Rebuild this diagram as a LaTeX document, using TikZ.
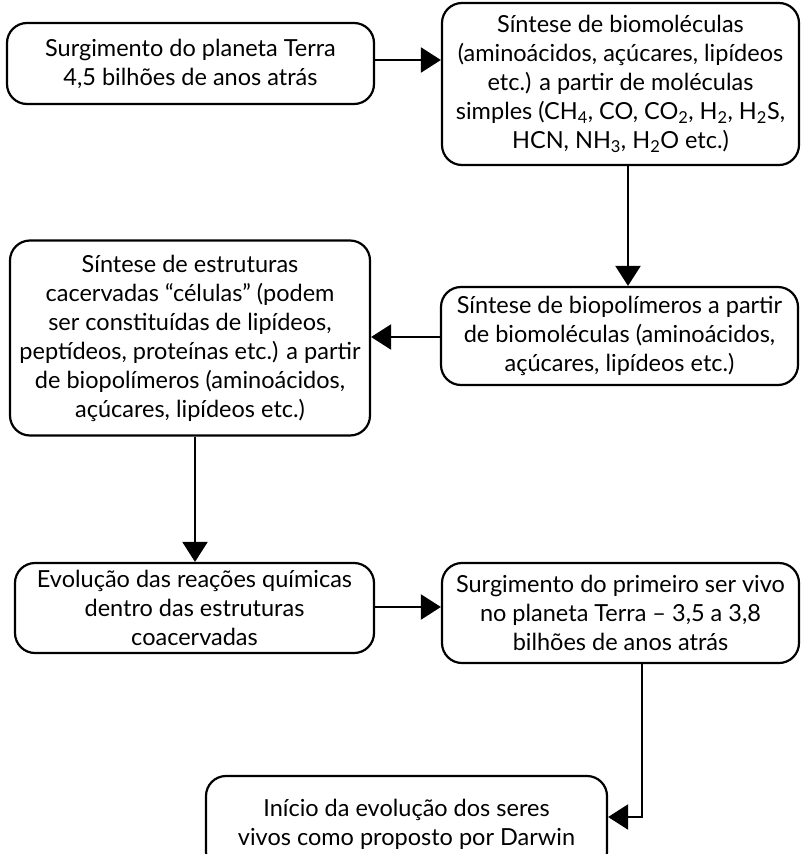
\documentclass[tikz,border=0pt]{standalone}
\usepackage{fontspec}
\setmainfont{Lato}
\usetikzlibrary{arrows.meta}
\begin{document}
\begin{tikzpicture}[x=1pt,y=-1pt,
  box/.style={draw=black,line width=2.2pt,rounded corners=20pt,align=center,
    inner sep=0pt,font=\fontsize{23.5}{29}\selectfont},
  conn/.style={line width=2.2pt,-{Triangle[length=20pt,width=25pt]}}]
\useasboundingbox (0,0) rectangle (801,854);
\clip (0,0) rectangle (801,854);
\fill[white] (0,0) rectangle (801,854);
\node[box,minimum width=367pt,minimum height=81pt] (b1) at (190.5,63.5)
  {Surgimento do planeta Terra\\4,5 bilhões de anos atrás};
\node[box,minimum width=357pt,minimum height=162pt] (b2) at (620.5,84)
  {Síntese de biomoléculas\\(aminoácidos, açúcares, lipídeos\\etc.) a partir de moléculas\\simples (CH\textsubscript{4}, CO, CO\textsubscript{2}, H\textsubscript{2}, H\textsubscript{2}S,\\HCN, NH\textsubscript{3}, H\textsubscript{2}O etc.)};
\node[box,minimum width=357pt,minimum height=98pt] (b3) at (619.5,336)
  {Síntese de biopolímeros a partir\\de biomoléculas (aminoácidos,\\açúcares, lipídeos etc.)};
\node[box,minimum width=360pt,minimum height=195pt] (b4) at (190,338)
  {Síntese de estruturas\\cacervadas “células” (podem\\ser constituídas de lipídeos,\\peptídeos, proteínas etc.) a partir\\de biopolímeros (aminoácidos,\\açúcares, lipídeos etc.)};
\node[box,minimum width=359pt,minimum height=90pt] (b5) at (194.5,608)
  {Evolução das reações químicas\\dentro das estruturas\\coacervadas};
\node[box,minimum width=357pt,minimum height=100pt] (b6) at (620.5,613)
  {Surgimento do primeiro ser vivo\\no planeta Terra – 3,5 a 3,8\\bilhões de anos atrás};
\node[box,minimum width=401pt,minimum height=96pt] (b7) at (406.5,824)
  {Início da evolução dos seres\\vivos como proposto por Darwin};
\draw[conn] (b1.east |- 0,60) -- (b2.west |- 0,60);
\draw[conn] (b2.south -| 628,0) -- (b3.north -| 628,0);
\draw[conn] (b3.west |- 0,337) -- (b4.east |- 0,337);
\draw[conn] (b4.south -| 195,0) -- (b5.north -| 195,0);
\draw[conn] (b5.east |- 0,607) -- (b6.west |- 0,607);
\coordinate (corner) at (642,817);
\draw[conn] (b6.south -| corner) -- (corner) -- (b7.east |- corner);
\end{tikzpicture}
\end{document}
